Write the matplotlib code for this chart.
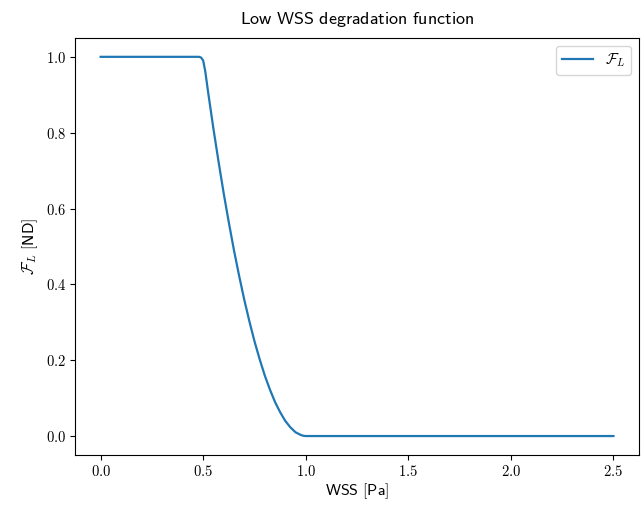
import matplotlib
matplotlib.use("Agg")
import matplotlib.pyplot as plt
from matplotlib.ticker import FuncFormatter

plt.rcParams['mathtext.fontset'] = 'cm'

wss = [0.0, 0.45, 0.48, 0.49, 0.50, 0.51, 0.525, 0.55, 0.575, 0.60, 0.625, 0.65,
       0.675, 0.70, 0.725, 0.75, 0.775, 0.80, 0.825, 0.85, 0.875, 0.90, 0.925,
       0.95, 0.975, 0.99, 1.0, 1.5, 2.0, 2.5]
f_low = [1.0, 1.0, 1.0, 0.998, 0.99, 0.962, 0.903, 0.81, 0.723, 0.64, 0.563, 0.49,
         0.423, 0.36, 0.303, 0.25, 0.203, 0.16, 0.123, 0.09, 0.063, 0.04, 0.023,
         0.01, 0.003, 0.0005, 0.0, 0.0, 0.0, 0.0]

fig = plt.figure(figsize=(6.41, 5.05), dpi=100)
ax = fig.add_axes([0.117, 0.099, 0.880, 0.826])
ax.plot(wss, f_low, color='#1f77b4', lw=1.6, label=r'$\mathcal{F}_L$')

fmt = FuncFormatter(lambda v, p: r'$%.1f$' % v)
ax.xaxis.set_major_formatter(fmt)
ax.yaxis.set_major_formatter(fmt)
ax.tick_params(labelsize=10.5, pad=3)

ax.set_title(r'$\mathsf{Low\ WSS\ degradation\ function}$', fontsize=13, pad=10)
ax.set_xlabel(r'$\mathsf{WSS\ [Pa]}$', fontsize=11.5, labelpad=2)
ax.set_ylabel(r'$\mathcal{F}_L\ \mathsf{[ND]}$', fontsize=11.5)
ax.legend(loc='upper right', fontsize=11)

fig.savefig('out.png', dpi=100)
